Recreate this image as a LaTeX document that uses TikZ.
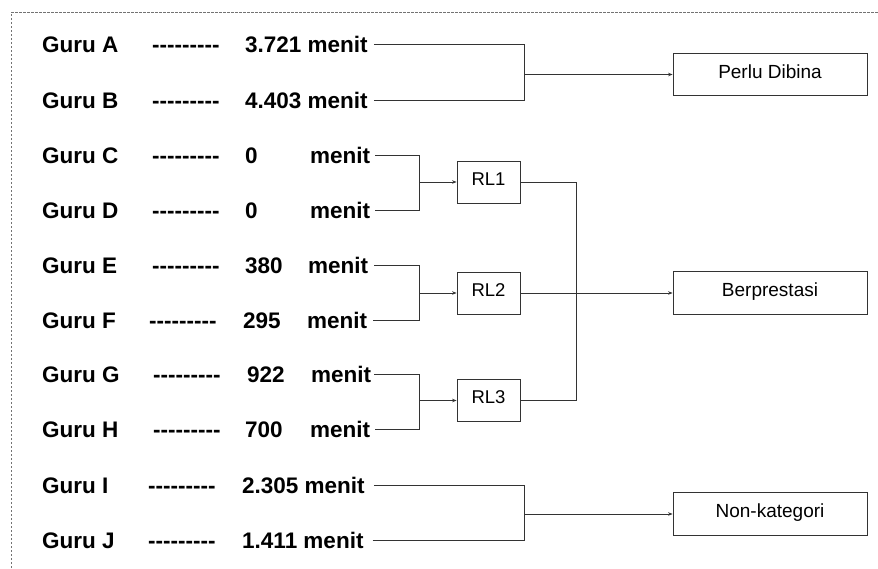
\documentclass[tikz,border=0pt]{standalone}
\usepackage{fontspec}
\setmainfont{Liberation Sans}
\newfontfamily\hyfont{Liberation Sans}
\usetikzlibrary{arrows.meta}
\begin{document}
\begin{tikzpicture}[x=1pt,y=-1pt,
  lbl/.style={anchor=west,inner sep=0pt,text height=16pt,text depth=0pt,font=\fontsize{22.5}{24}\selectfont\bfseries},
  dsh/.style={lbl,font=\hyfont\fontsize{22.5}{24}\selectfont\bfseries},
  box/.style={draw=black!80,line width=0.8pt,minimum width=194pt,minimum height=42.5pt,inner sep=0pt,
    text height=13.6pt,text depth=6pt,font=\fontsize{19}{21}\selectfont},
  rl/.style={box,minimum width=63pt,minimum height=42pt,text height=13.2pt,text depth=7pt,font=\fontsize{18.5}{20}\selectfont},
  conn/.style={draw=black!80,line width=0.8pt},
  arr/.style={conn,-{Stealth[length=4.5pt,width=3.5pt]}},
  frame/.style={draw=black!55,line width=0.8pt,dash pattern=on 2.5pt off 1.5pt}]
\useasboundingbox (0,0) rectangle (878,568);
\draw[frame] (11,568) -- (11,12) -- (878,12);

% rows
\node[lbl] (gA) at (42,44) {Guru A};  \node[dsh] (dA) at (152,44) {---------}; \node[lbl] (mA) at (245,44) {3.721 menit};
\node[lbl] (gB) at (42,100) {Guru B}; \node[dsh] (dB) at (152,100) {---------}; \node[lbl] (mB) at (245,100) {4.403 menit};
\node[lbl] (gC) at (42,155) {Guru C}; \node[dsh] (dC) at (152,155) {---------}; \node[lbl] (nC) at (245,155) {0}; \node[lbl] (mC) at (310,155) {menit};
\node[lbl] (gD) at (42,210) {Guru D}; \node[dsh] (dD) at (152,210) {---------}; \node[lbl] (nD) at (245,210) {0}; \node[lbl] (mD) at (310,210) {menit};
\node[lbl] (gE) at (42,265) {Guru E}; \node[dsh] (dE) at (152,265) {---------}; \node[lbl] (nE) at (245,265) {380}; \node[lbl] (mE) at (308,265) {menit};
\node[lbl] (gF) at (42,320) {Guru F}; \node[dsh] (dF) at (149,320) {---------}; \node[lbl] (nF) at (243,320) {295}; \node[lbl] (mF) at (307,320) {menit};
\node[lbl] (gG) at (42,374) {Guru G}; \node[dsh] (dG) at (153,374) {---------}; \node[lbl] (nG) at (247,374) {922}; \node[lbl] (mG) at (311,374) {menit};
\node[lbl] (gH) at (42,429) {Guru H}; \node[dsh] (dH) at (153,429) {---------}; \node[lbl] (nH) at (245,429) {700}; \node[lbl] (mH) at (310,429) {menit};
\node[lbl] (gI) at (42,485) {Guru I}; \node[dsh] (dI) at (148,485) {---------}; \node[lbl] (mI) at (242,485) {2.305 menit};
\node[lbl] (gJ) at (42,540) {Guru J}; \node[dsh] (dJ) at (148,540) {---------}; \node[lbl] (mJ) at (242,540) {1.411 menit};

% boxes
\node[box] (perlu) at (770,74.5) {Perlu Dibina};
\node[box] (berp) at (770,293) {Berprestasi};
\node[box] (nonk) at (770,514) {Non-kategori};
\node[rl] (rl1) at (488.5,182) {RL1};
\node[rl] (rl2) at (488.5,293) {RL2};
\node[rl] (rl3) at (488.5,400.5) {RL3};

% junctions
\coordinate (jAB) at (524,74.5);
\coordinate (jCD) at (419,182);
\coordinate (jEF) at (419,293);
\coordinate (jGH) at (419,400.5);
\coordinate (jIJ) at (524,514);
\coordinate (vx) at (576,293);

% connectors
\draw[conn] ([xshift=6pt]mA.east) -| (jAB);
\draw[conn] ([xshift=6pt]mB.east) -| (jAB);
\draw[arr] (jAB) -- (perlu.west);

\draw[conn] ([xshift=5pt]mC.east) -| (jCD);
\draw[conn] ([xshift=5pt]mD.east) -| (jCD);
\draw[arr] (jCD) -- (rl1.west);

\draw[conn] ([xshift=6pt]mE.east) -| (jEF);
\draw[conn] ([xshift=6pt]mF.east) -| (jEF);
\draw[arr] (jEF) -- (rl2.west);

\draw[conn] ([xshift=3pt]mG.east) -| (jGH);
\draw[conn] ([xshift=5pt]mH.east) -| (jGH);
\draw[arr] (jGH) -- (rl3.west);

\draw[conn] (rl1.east) -| (vx);
\draw[conn] (rl3.east) -| (vx);
\draw[arr] (rl2.east) -- (berp.west);

\draw[conn] ([xshift=9pt]mI.east) -| (jIJ);
\draw[conn] ([xshift=9pt]mJ.east) -| (jIJ);
\draw[arr] (jIJ) -- (nonk.west);
\end{tikzpicture}
\end{document}
